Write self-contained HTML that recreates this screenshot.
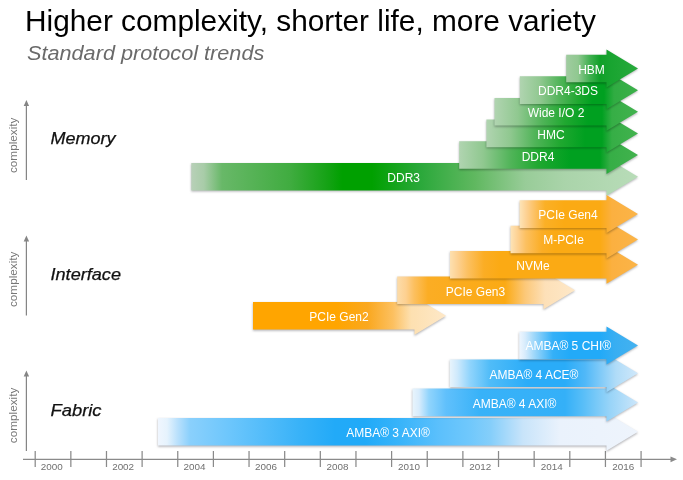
<!DOCTYPE html>
<html><head><meta charset="utf-8"><style>
html,body{margin:0;padding:0;background:#fff;}
body{width:683px;height:480px;overflow:hidden;position:relative;font-family:"Liberation Sans",sans-serif;}
svg{position:absolute;left:0;top:0;will-change:transform;}
svg text{font-family:"Liberation Sans",sans-serif;}
</style></head><body>
<svg width="683" height="480" viewBox="0 0 683 480">
<defs>
<filter id="bl" x="-5%" y="-30%" width="115%" height="170%">
<feGaussianBlur stdDeviation="0.9"/>
</filter>
<linearGradient id="gddr3" gradientUnits="userSpaceOnUse" x1="191.3" y1="0" x2="638.0" y2="0"><stop offset="-0.0007" stop-color="#b8d0b8"/><stop offset="0.0284" stop-color="#a8cca8"/><stop offset="0.0687" stop-color="#68b868"/><stop offset="0.2210" stop-color="#40ac40"/><stop offset="0.3060" stop-color="#14a214"/><stop offset="0.3374" stop-color="#00a000"/><stop offset="0.4045" stop-color="#00a000"/><stop offset="0.5120" stop-color="#2aa83a"/><stop offset="0.6351" stop-color="#60b860"/><stop offset="0.7470" stop-color="#98cc98"/><stop offset="0.8366" stop-color="#aad4aa"/><stop offset="1.0000" stop-color="#b8dcb8"/></linearGradient><linearGradient id="gddr4" gradientUnits="userSpaceOnUse" x1="459.2" y1="0" x2="638.0" y2="0"><stop offset="0.0017" stop-color="#b0d4b0"/><stop offset="0.1331" stop-color="#90c890"/><stop offset="0.2897" stop-color="#50b458"/><stop offset="0.4407" stop-color="#20a830"/><stop offset="0.6197" stop-color="#00a020"/><stop offset="0.7875" stop-color="#00a020"/><stop offset="0.8434" stop-color="#36ae46"/><stop offset="1.0000" stop-color="#42b24e"/></linearGradient><linearGradient id="ghmc" gradientUnits="userSpaceOnUse" x1="486.4" y1="0" x2="638.0" y2="0"><stop offset="0.0040" stop-color="#b0d4b0"/><stop offset="0.1557" stop-color="#90c890"/><stop offset="0.3206" stop-color="#50b458"/><stop offset="0.4855" stop-color="#20a830"/><stop offset="0.6504" stop-color="#00a020"/><stop offset="0.7625" stop-color="#00a020"/><stop offset="0.8285" stop-color="#36ae46"/><stop offset="1.0000" stop-color="#42b24e"/></linearGradient><linearGradient id="gwio" gradientUnits="userSpaceOnUse" x1="494.5" y1="0" x2="638.0" y2="0"><stop offset="0.0035" stop-color="#b0d4b0"/><stop offset="0.1638" stop-color="#90c890"/><stop offset="0.3310" stop-color="#50b458"/><stop offset="0.4913" stop-color="#20a830"/><stop offset="0.6516" stop-color="#00a020"/><stop offset="0.7491" stop-color="#00a020"/><stop offset="0.8188" stop-color="#36ae46"/><stop offset="1.0000" stop-color="#42b24e"/></linearGradient><linearGradient id="gd3ds" gradientUnits="userSpaceOnUse" x1="519.8" y1="0" x2="638.0" y2="0"><stop offset="0.0017" stop-color="#b0d4b0"/><stop offset="0.1709" stop-color="#90c890"/><stop offset="0.3401" stop-color="#50b458"/><stop offset="0.4924" stop-color="#20a830"/><stop offset="0.6108" stop-color="#00a020"/><stop offset="0.7124" stop-color="#00a020"/><stop offset="0.7970" stop-color="#30ac42"/><stop offset="1.0000" stop-color="#3cb04a"/></linearGradient><linearGradient id="ghbm" gradientUnits="userSpaceOnUse" x1="566.2" y1="0" x2="638.0" y2="0"><stop offset="-0.0028" stop-color="#a0cca0"/><stop offset="0.1643" stop-color="#90c890"/><stop offset="0.3315" stop-color="#40b050"/><stop offset="0.4708" stop-color="#10a028"/><stop offset="0.6100" stop-color="#18a430"/><stop offset="1.0000" stop-color="#28aa3c"/></linearGradient><linearGradient id="gg2" gradientUnits="userSpaceOnUse" x1="253" y1="0" x2="446" y2="0"><stop offset="0.0000" stop-color="#ffa500"/><stop offset="0.4352" stop-color="#ffa500"/><stop offset="0.5959" stop-color="#faa820"/><stop offset="0.7254" stop-color="#fcc060"/><stop offset="0.8187" stop-color="#fde0b0"/><stop offset="1.0000" stop-color="#fee8c8"/></linearGradient><linearGradient id="gg3" gradientUnits="userSpaceOnUse" x1="397.2" y1="0" x2="575" y2="0"><stop offset="0.0000" stop-color="#fcdcaa"/><stop offset="0.0495" stop-color="#fdd090"/><stop offset="0.0945" stop-color="#fcc060"/><stop offset="0.1732" stop-color="#fbad24"/><stop offset="0.6063" stop-color="#fbaa14"/><stop offset="0.7188" stop-color="#fcc878"/><stop offset="0.8313" stop-color="#fde0b8"/><stop offset="1.0000" stop-color="#fee8c8"/></linearGradient><linearGradient id="gnvme" gradientUnits="userSpaceOnUse" x1="450" y1="0" x2="638.0" y2="0"><stop offset="0.0000" stop-color="#fde0b0"/><stop offset="0.0426" stop-color="#fdd090"/><stop offset="0.0957" stop-color="#fcc060"/><stop offset="0.1809" stop-color="#fbad24"/><stop offset="0.2660" stop-color="#fbaa14"/><stop offset="0.7979" stop-color="#fbaa14"/><stop offset="0.8617" stop-color="#fbb040"/><stop offset="1.0000" stop-color="#fbb448"/></linearGradient><linearGradient id="gmpcie" gradientUnits="userSpaceOnUse" x1="510.5" y1="0" x2="638.0" y2="0"><stop offset="0.0000" stop-color="#fde4b8"/><stop offset="0.0588" stop-color="#fdd090"/><stop offset="0.1216" stop-color="#fcc060"/><stop offset="0.2471" stop-color="#fbad24"/><stop offset="0.3490" stop-color="#fbaa14"/><stop offset="0.7020" stop-color="#fbaa14"/><stop offset="0.7961" stop-color="#fbb040"/><stop offset="1.0000" stop-color="#fbb448"/></linearGradient><linearGradient id="gg4" gradientUnits="userSpaceOnUse" x1="519.6" y1="0" x2="638.0" y2="0"><stop offset="0.0000" stop-color="#fde4b8"/><stop offset="0.0625" stop-color="#fdd090"/><stop offset="0.1301" stop-color="#fcc060"/><stop offset="0.2145" stop-color="#fbb026"/><stop offset="0.3750" stop-color="#fbaa14"/><stop offset="0.6791" stop-color="#fbaa14"/><stop offset="0.7804" stop-color="#fbb040"/><stop offset="1.0000" stop-color="#fbb448"/></linearGradient><linearGradient id="ga3" gradientUnits="userSpaceOnUse" x1="158" y1="0" x2="638.0" y2="0"><stop offset="0.0000" stop-color="#f0f6fe"/><stop offset="0.0187" stop-color="#e6f3fd"/><stop offset="0.0417" stop-color="#b8e0fc"/><stop offset="0.0667" stop-color="#8ad0fc"/><stop offset="0.1500" stop-color="#6cc6fc"/><stop offset="0.2958" stop-color="#38b2f8"/><stop offset="0.3688" stop-color="#22aaf8"/><stop offset="0.4313" stop-color="#20aaf8"/><stop offset="0.5042" stop-color="#38b4fa"/><stop offset="0.5875" stop-color="#5cc0fc"/><stop offset="0.6500" stop-color="#70c8fc"/><stop offset="0.6917" stop-color="#84cefa"/><stop offset="0.7604" stop-color="#c8e4fa"/><stop offset="0.8375" stop-color="#eaf2fc"/><stop offset="1.0000" stop-color="#eef4fc"/></linearGradient><linearGradient id="ga4axi" gradientUnits="userSpaceOnUse" x1="412.5" y1="0" x2="638.0" y2="0"><stop offset="0.0000" stop-color="#e8f4fc"/><stop offset="0.0288" stop-color="#d8ecfc"/><stop offset="0.0732" stop-color="#90d4fc"/><stop offset="0.1486" stop-color="#60c0fc"/><stop offset="0.2993" stop-color="#38b2f8"/><stop offset="0.6763" stop-color="#34b0f8"/><stop offset="0.7561" stop-color="#58bef8"/><stop offset="0.8758" stop-color="#98d4f8"/><stop offset="1.0000" stop-color="#cce6fa"/></linearGradient><linearGradient id="ga4ace" gradientUnits="userSpaceOnUse" x1="449.8" y1="0" x2="638.0" y2="0"><stop offset="0.0000" stop-color="#e8f4fc"/><stop offset="0.0383" stop-color="#d0eafc"/><stop offset="0.1073" stop-color="#90d4fc"/><stop offset="0.2136" stop-color="#50bcf8"/><stop offset="0.4155" stop-color="#2aacf8"/><stop offset="0.6121" stop-color="#2aacf8"/><stop offset="0.7184" stop-color="#50b8f8"/><stop offset="0.8831" stop-color="#b0dcf8"/><stop offset="1.0000" stop-color="#d0e8fa"/></linearGradient><linearGradient id="ga5" gradientUnits="userSpaceOnUse" x1="519.2" y1="0" x2="638.0" y2="0"><stop offset="0.0000" stop-color="#eef6fe"/><stop offset="0.0488" stop-color="#d8ecfc"/><stop offset="0.1246" stop-color="#a0d8fa"/><stop offset="0.2845" stop-color="#34b0f8"/><stop offset="0.4276" stop-color="#22aaf8"/><stop offset="0.6801" stop-color="#22aaf8"/><stop offset="0.8064" stop-color="#38aef2"/><stop offset="1.0000" stop-color="#44b2f0"/></linearGradient>
</defs>
<text x="25" y="30.7" font-size="29.8" textLength="571" lengthAdjust="spacingAndGlyphs" fill="#000">Higher complexity, shorter life, more variety</text>
<text x="27" y="60.2" font-size="19.5" textLength="237.3" lengthAdjust="spacingAndGlyphs" font-style="italic" fill="#6a6a6a">Standard protocol trends</text>
<line x1="26.4" y1="104" x2="26.4" y2="180" stroke="#858585" stroke-width="1.25"/><polygon points="23.7,105.9 26.4,100 29.1,105.9" fill="#858585"/><text transform="translate(16.9,145.3) rotate(-90)" text-anchor="middle" font-size="11.8" textLength="55.5" lengthAdjust="spacingAndGlyphs" fill="#777">complexity</text><line x1="26.4" y1="239.5" x2="26.4" y2="315.5" stroke="#858585" stroke-width="1.25"/><polygon points="23.7,241.4 26.4,235.5 29.1,241.4" fill="#858585"/><text transform="translate(16.9,279.3) rotate(-90)" text-anchor="middle" font-size="11.8" textLength="55.5" lengthAdjust="spacingAndGlyphs" fill="#777">complexity</text><line x1="26.4" y1="374.5" x2="26.4" y2="451" stroke="#858585" stroke-width="1.25"/><polygon points="23.7,376.4 26.4,370.5 29.1,376.4" fill="#858585"/><text transform="translate(16.9,415.45) rotate(-90)" text-anchor="middle" font-size="11.8" textLength="55.5" lengthAdjust="spacingAndGlyphs" fill="#777">complexity</text><line x1="23" y1="459.3" x2="671" y2="459.3" stroke="#8a8a8a" stroke-width="1.25"/><polygon points="670.5,456.4 677,459.3 670.5,462.2" fill="#8a8a8a"/><line x1="35.20" y1="451" x2="35.20" y2="467" stroke="#8a8a8a" stroke-width="1.25"/><line x1="70.84" y1="451" x2="70.84" y2="467" stroke="#8a8a8a" stroke-width="1.25"/><line x1="106.48" y1="451" x2="106.48" y2="467" stroke="#8a8a8a" stroke-width="1.25"/><line x1="142.12" y1="451" x2="142.12" y2="467" stroke="#8a8a8a" stroke-width="1.25"/><line x1="177.76" y1="451" x2="177.76" y2="467" stroke="#8a8a8a" stroke-width="1.25"/><line x1="213.40" y1="451" x2="213.40" y2="467" stroke="#8a8a8a" stroke-width="1.25"/><line x1="249.04" y1="451" x2="249.04" y2="467" stroke="#8a8a8a" stroke-width="1.25"/><line x1="284.68" y1="451" x2="284.68" y2="467" stroke="#8a8a8a" stroke-width="1.25"/><line x1="320.32" y1="451" x2="320.32" y2="467" stroke="#8a8a8a" stroke-width="1.25"/><line x1="355.96" y1="451" x2="355.96" y2="467" stroke="#8a8a8a" stroke-width="1.25"/><line x1="391.60" y1="451" x2="391.60" y2="467" stroke="#8a8a8a" stroke-width="1.25"/><line x1="427.24" y1="451" x2="427.24" y2="467" stroke="#8a8a8a" stroke-width="1.25"/><line x1="462.88" y1="451" x2="462.88" y2="467" stroke="#8a8a8a" stroke-width="1.25"/><line x1="498.52" y1="451" x2="498.52" y2="467" stroke="#8a8a8a" stroke-width="1.25"/><line x1="534.16" y1="451" x2="534.16" y2="467" stroke="#8a8a8a" stroke-width="1.25"/><line x1="569.80" y1="451" x2="569.80" y2="467" stroke="#8a8a8a" stroke-width="1.25"/><line x1="605.44" y1="451" x2="605.44" y2="467" stroke="#8a8a8a" stroke-width="1.25"/><line x1="641.08" y1="451" x2="641.08" y2="467" stroke="#8a8a8a" stroke-width="1.25"/><text x="51.70" y="470.4" text-anchor="middle" font-size="9.9" fill="#707070">2000</text><text x="123.14" y="470.4" text-anchor="middle" font-size="9.9" fill="#707070">2002</text><text x="194.58" y="470.4" text-anchor="middle" font-size="9.9" fill="#707070">2004</text><text x="266.02" y="470.4" text-anchor="middle" font-size="9.9" fill="#707070">2006</text><text x="337.46" y="470.4" text-anchor="middle" font-size="9.9" fill="#707070">2008</text><text x="408.90" y="470.4" text-anchor="middle" font-size="9.9" fill="#707070">2010</text><text x="480.34" y="470.4" text-anchor="middle" font-size="9.9" fill="#707070">2012</text><text x="551.78" y="470.4" text-anchor="middle" font-size="9.9" fill="#707070">2014</text><text x="623.22" y="470.4" text-anchor="middle" font-size="9.9" fill="#707070">2016</text>
<text x="50.5" y="144.15" font-size="17" textLength="65" lengthAdjust="spacingAndGlyphs" font-style="italic" fill="#111" stroke="#111" stroke-width="0.25">Memory</text><text x="50.5" y="280.4" font-size="17" textLength="70.5" lengthAdjust="spacingAndGlyphs" font-style="italic" fill="#111" stroke="#111" stroke-width="0.25">Interface</text><text x="50.5" y="415.9" font-size="17" textLength="51" lengthAdjust="spacingAndGlyphs" font-style="italic" fill="#111" stroke="#111" stroke-width="0.25">Fabric</text>
<polygon points="191.30,162.90 606.50,162.90 606.50,157.70 638.00,176.70 606.50,195.70 606.50,190.50 191.30,190.50" transform="translate(-0.1,1.1)" fill="#b2b2b6" filter="url(#bl)" style="mix-blend-mode:multiply"/><polygon points="191.30,162.90 606.50,162.90 606.50,157.70 638.00,176.70 606.50,195.70 606.50,190.50 191.30,190.50" fill="url(#gddr3)"/><text x="403.7" y="182.0" text-anchor="middle" font-size="12" fill="#fff">DDR3</text><polygon points="459.20,141.26 606.50,141.26 606.50,136.06 638.00,155.06 606.50,174.06 606.50,168.86 459.20,168.86" transform="translate(-0.1,1.1)" fill="#b2b2b6" filter="url(#bl)" style="mix-blend-mode:multiply"/><polygon points="459.20,141.26 606.50,141.26 606.50,136.06 638.00,155.06 606.50,174.06 606.50,168.86 459.20,168.86" fill="url(#gddr4)"/><text x="538.0" y="160.6" text-anchor="middle" font-size="12" fill="#fff">DDR4</text><polygon points="486.40,119.62 606.50,119.62 606.50,114.42 638.00,133.42 606.50,152.42 606.50,147.22 486.40,147.22" transform="translate(-0.1,1.1)" fill="#b2b2b6" filter="url(#bl)" style="mix-blend-mode:multiply"/><polygon points="486.40,119.62 606.50,119.62 606.50,114.42 638.00,133.42 606.50,152.42 606.50,147.22 486.40,147.22" fill="url(#ghmc)"/><text x="551.0" y="139.0" text-anchor="middle" font-size="12" fill="#fff">HMC</text><polygon points="494.50,97.98 606.50,97.98 606.50,92.78 638.00,111.78 606.50,130.78 606.50,125.58 494.50,125.58" transform="translate(-0.1,1.1)" fill="#b2b2b6" filter="url(#bl)" style="mix-blend-mode:multiply"/><polygon points="494.50,97.98 606.50,97.98 606.50,92.78 638.00,111.78 606.50,130.78 606.50,125.58 494.50,125.58" fill="url(#gwio)"/><text x="556.0" y="117.0" text-anchor="middle" font-size="12" fill="#fff">Wide I/O 2</text><polygon points="519.80,76.34 606.50,76.34 606.50,71.14 638.00,90.14 606.50,109.14 606.50,103.94 519.80,103.94" transform="translate(-0.1,1.1)" fill="#b2b2b6" filter="url(#bl)" style="mix-blend-mode:multiply"/><polygon points="519.80,76.34 606.50,76.34 606.50,71.14 638.00,90.14 606.50,109.14 606.50,103.94 519.80,103.94" fill="url(#gd3ds)"/><text x="568.0" y="95.3" text-anchor="middle" font-size="12" fill="#fff">DDR4-3DS</text><polygon points="566.20,54.70 606.50,54.70 606.50,49.50 638.00,68.50 606.50,87.50 606.50,82.30 566.20,82.30" transform="translate(-0.1,1.1)" fill="#b2b2b6" filter="url(#bl)" style="mix-blend-mode:multiply"/><polygon points="566.20,54.70 606.50,54.70 606.50,49.50 638.00,68.50 606.50,87.50 606.50,82.30 566.20,82.30" fill="url(#ghbm)"/><text x="591.5" y="73.8" text-anchor="middle" font-size="12" fill="#fff">HBM</text><polygon points="253.00,302.00 414.50,302.00 414.50,296.80 446.00,315.80 414.50,334.80 414.50,329.60 253.00,329.60" transform="translate(-0.1,1.1)" fill="#b2b2b6" filter="url(#bl)" style="mix-blend-mode:multiply"/><polygon points="253.00,302.00 414.50,302.00 414.50,296.80 446.00,315.80 414.50,334.80 414.50,329.60 253.00,329.60" fill="url(#gg2)"/><text x="339.0" y="321.1" text-anchor="middle" font-size="12" fill="#fff">PCIe Gen2</text><polygon points="397.20,276.40 543.50,276.40 543.50,271.20 575.00,290.20 543.50,309.20 543.50,304.00 397.20,304.00" transform="translate(-0.1,1.1)" fill="#b2b2b6" filter="url(#bl)" style="mix-blend-mode:multiply"/><polygon points="397.20,276.40 543.50,276.40 543.50,271.20 575.00,290.20 543.50,309.20 543.50,304.00 397.20,304.00" fill="url(#gg3)"/><text x="475.5" y="296.2" text-anchor="middle" font-size="12" fill="#fff">PCIe Gen3</text><polygon points="450.00,250.90 606.50,250.90 606.50,245.70 638.00,264.70 606.50,283.70 606.50,278.50 450.00,278.50" transform="translate(-0.1,1.1)" fill="#b2b2b6" filter="url(#bl)" style="mix-blend-mode:multiply"/><polygon points="450.00,250.90 606.50,250.90 606.50,245.70 638.00,264.70 606.50,283.70 606.50,278.50 450.00,278.50" fill="url(#gnvme)"/><text x="533.0" y="269.6" text-anchor="middle" font-size="12" fill="#fff">NVMe</text><polygon points="510.50,225.70 606.50,225.70 606.50,220.50 638.00,239.50 606.50,258.50 606.50,253.30 510.50,253.30" transform="translate(-0.1,1.1)" fill="#b2b2b6" filter="url(#bl)" style="mix-blend-mode:multiply"/><polygon points="510.50,225.70 606.50,225.70 606.50,220.50 638.00,239.50 606.50,258.50 606.50,253.30 510.50,253.30" fill="url(#gmpcie)"/><text x="563.5" y="244.4" text-anchor="middle" font-size="12" fill="#fff">M-PCIe</text><polygon points="519.60,200.30 606.50,200.30 606.50,195.10 638.00,214.10 606.50,233.10 606.50,227.90 519.60,227.90" transform="translate(-0.1,1.1)" fill="#b2b2b6" filter="url(#bl)" style="mix-blend-mode:multiply"/><polygon points="519.60,200.30 606.50,200.30 606.50,195.10 638.00,214.10 606.50,233.10 606.50,227.90 519.60,227.90" fill="url(#gg4)"/><text x="568.0" y="219.0" text-anchor="middle" font-size="12" fill="#fff">PCIe Gen4</text><polygon points="158.00,418.00 606.50,418.00 606.50,412.80 638.00,431.80 606.50,450.80 606.50,445.60 158.00,445.60" transform="translate(-0.1,1.1)" fill="#b2b2b6" filter="url(#bl)" style="mix-blend-mode:multiply"/><polygon points="158.00,418.00 606.50,418.00 606.50,412.80 638.00,431.80 606.50,450.80 606.50,445.60 158.00,445.60" fill="url(#ga3)"/><text x="388.0" y="436.7" text-anchor="middle" font-size="12" fill="#fff">AMBA® 3 AXI®</text><polygon points="412.50,388.60 606.50,388.60 606.50,383.40 638.00,402.40 606.50,421.40 606.50,416.20 412.50,416.20" transform="translate(-0.1,1.1)" fill="#b2b2b6" filter="url(#bl)" style="mix-blend-mode:multiply"/><polygon points="412.50,388.60 606.50,388.60 606.50,383.40 638.00,402.40 606.50,421.40 606.50,416.20 412.50,416.20" fill="url(#ga4axi)"/><text x="514.5" y="408.2" text-anchor="middle" font-size="12" fill="#fff">AMBA® 4 AXI®</text><polygon points="449.80,359.40 606.50,359.40 606.50,354.20 638.00,373.20 606.50,392.20 606.50,387.00 449.80,387.00" transform="translate(-0.1,1.1)" fill="#b2b2b6" filter="url(#bl)" style="mix-blend-mode:multiply"/><polygon points="449.80,359.40 606.50,359.40 606.50,354.20 638.00,373.20 606.50,392.20 606.50,387.00 449.80,387.00" fill="url(#ga4ace)"/><text x="533.9" y="379.4" text-anchor="middle" font-size="12" fill="#fff">AMBA® 4 ACE®</text><polygon points="519.20,331.70 606.50,331.70 606.50,326.50 638.00,345.50 606.50,364.50 606.50,359.30 519.20,359.30" transform="translate(-0.1,1.1)" fill="#b2b2b6" filter="url(#bl)" style="mix-blend-mode:multiply"/><polygon points="519.20,331.70 606.50,331.70 606.50,326.50 638.00,345.50 606.50,364.50 606.50,359.30 519.20,359.30" fill="url(#ga5)"/><text x="568.3" y="350.1" text-anchor="middle" font-size="12" fill="#fff">AMBA® 5 CHI®</text>
</svg>
</body></html>
